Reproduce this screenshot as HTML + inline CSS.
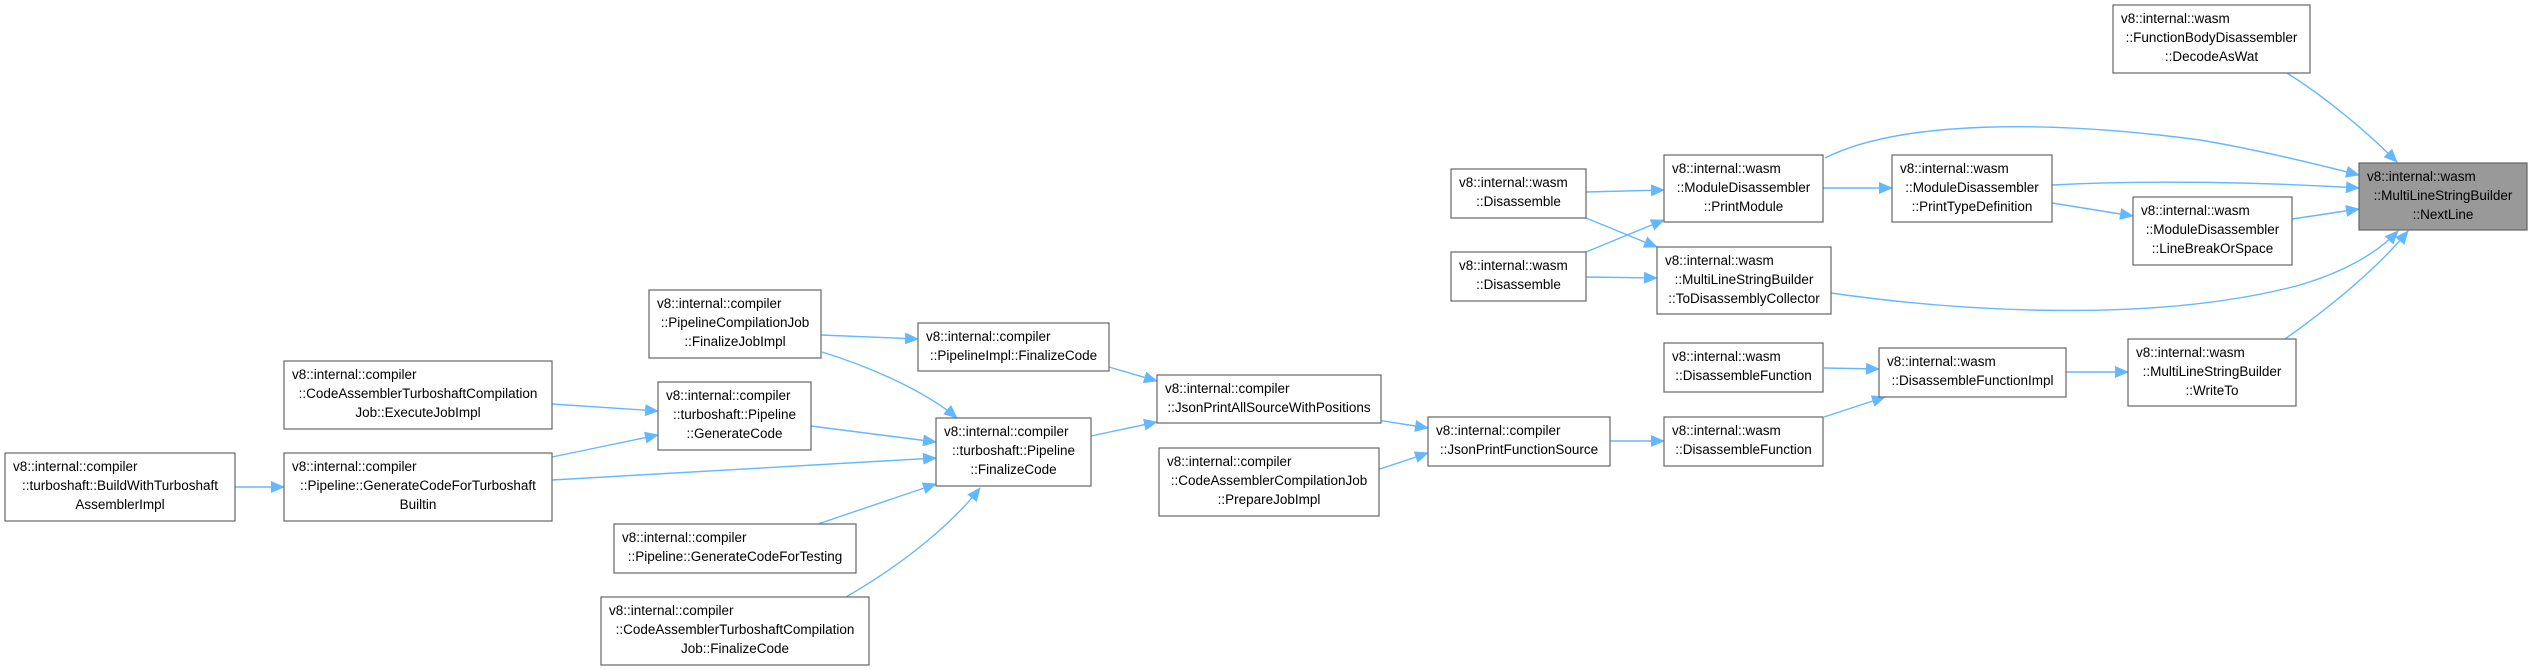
<!DOCTYPE html>
<html><head><meta charset="utf-8"><style>
html,body{margin:0;padding:0;background:#fff;}
svg{display:block;}
text{font-family:"Liberation Sans",sans-serif;font-size:13.5px;fill:#000;}
.b{fill:#fff;stroke:#666;stroke-width:1.2;}
.e{fill:none;stroke:#63b8ff;stroke-width:1.4;}
</style></head><body>
<svg width="2534" height="670" viewBox="0 0 2534 670" xmlns="http://www.w3.org/2000/svg">
<defs><marker id="a" markerUnits="userSpaceOnUse" markerWidth="14" markerHeight="12" refX="13" refY="6" orient="auto"><path d="M0,0 L14,6 L0,12 z" fill="#63b8ff"/></marker></defs>
<g class="edges">
<path class="e" marker-end="url(#a)" d="M2287,73 C2330,100 2370,135 2397,162"/>
<path class="e" marker-end="url(#a)" d="M1825,158 C1900,120 2050,120 2200,140 C2260,150 2320,165 2359,175"/>
<path class="e" marker-end="url(#a)" d="M2052,185 C2150,180 2260,182 2359,188"/>
<path class="e" marker-end="url(#a)" d="M2292,219 L2359,209"/>
<path class="e" marker-end="url(#a)" d="M2052,203 L2133,216"/>
<path class="e" marker-end="url(#a)" d="M1823,188 L1892,188"/>
<path class="e" marker-end="url(#a)" d="M1586,192 L1664,190"/>
<path class="e" marker-end="url(#a)" d="M1586,218 L1657,247"/>
<path class="e" marker-end="url(#a)" d="M1586,252 L1664,220"/>
<path class="e" marker-end="url(#a)" d="M1586,277 L1657,278"/>
<path class="e" marker-end="url(#a)" d="M1831,293 C1950,310 2150,325 2300,285 C2350,270 2380,250 2398,231"/>
<path class="e" marker-end="url(#a)" d="M2285,339 C2340,300 2380,265 2408,231"/>
<path class="e" marker-end="url(#a)" d="M2066,372 L2128,372"/>
<path class="e" marker-end="url(#a)" d="M1824,368 L1879,369"/>
<path class="e" marker-end="url(#a)" d="M1824,417 L1885,397"/>
<path class="e" marker-end="url(#a)" d="M1610,441 L1664,441"/>
<path class="e" marker-end="url(#a)" d="M1377,420 L1428,428"/>
<path class="e" marker-end="url(#a)" d="M1377,470 L1428,453"/>
<path class="e" marker-end="url(#a)" d="M1109,367 L1157,381"/>
<path class="e" marker-end="url(#a)" d="M1091,436 L1157,422"/>
<path class="e" marker-end="url(#a)" d="M821,335 L918,339"/>
<path class="e" marker-end="url(#a)" d="M822,352 C880,370 930,395 957,418"/>
<path class="e" marker-end="url(#a)" d="M811,426 L936,442"/>
<path class="e" marker-end="url(#a)" d="M552,404 L658,411"/>
<path class="e" marker-end="url(#a)" d="M552,457 L658,435"/>
<path class="e" marker-end="url(#a)" d="M552,480 L936,458"/>
<path class="e" marker-end="url(#a)" d="M235,487 L284,487"/>
<path class="e" marker-end="url(#a)" d="M818,524 L936,484"/>
<path class="e" marker-end="url(#a)" d="M846,597 C910,560 955,520 980,488"/>
</g>
<g class="nodes">
<rect class="b" x="2113" y="5" width="197" height="68"/>
<text x="2121" y="23">v8::internal::wasm</text><text x="2211.5" y="42" text-anchor="middle">::FunctionBodyDisassembler</text><text x="2211.5" y="61" text-anchor="middle">::DecodeAsWat</text>

<rect x="2359" y="163" width="168" height="67" fill="#999" stroke="#666" stroke-width="1.2"/>
<text x="2367" y="181">v8::internal::wasm</text><text x="2443" y="200" text-anchor="middle">::MultiLineStringBuilder</text><text x="2443" y="219" text-anchor="middle">::NextLine</text>

<rect class="b" x="1664" y="155" width="159" height="67"/>
<text x="1672" y="173">v8::internal::wasm</text><text x="1743.5" y="192" text-anchor="middle">::ModuleDisassembler</text><text x="1743.5" y="211" text-anchor="middle">::PrintModule</text>

<rect class="b" x="1892" y="155" width="160" height="67"/>
<text x="1900" y="173">v8::internal::wasm</text><text x="1972" y="192" text-anchor="middle">::ModuleDisassembler</text><text x="1972" y="211" text-anchor="middle">::PrintTypeDefinition</text>

<rect class="b" x="2133" y="197" width="159" height="68"/>
<text x="2141" y="215">v8::internal::wasm</text><text x="2212.5" y="234" text-anchor="middle">::ModuleDisassembler</text><text x="2212.5" y="253" text-anchor="middle">::LineBreakOrSpace</text>

<rect class="b" x="1451" y="169" width="135" height="49"/>
<text x="1459" y="187">v8::internal::wasm</text><text x="1518.5" y="206" text-anchor="middle">::Disassemble</text>

<rect class="b" x="1451" y="252" width="135" height="49"/>
<text x="1459" y="270">v8::internal::wasm</text><text x="1518.5" y="289" text-anchor="middle">::Disassemble</text>

<rect class="b" x="1657" y="247" width="174" height="67"/>
<text x="1665" y="265">v8::internal::wasm</text><text x="1744" y="284" text-anchor="middle">::MultiLineStringBuilder</text><text x="1744" y="303" text-anchor="middle">::ToDisassemblyCollector</text>

<rect class="b" x="1664" y="343" width="159" height="49"/>
<text x="1672" y="361">v8::internal::wasm</text><text x="1743.5" y="380" text-anchor="middle">::DisassembleFunction</text>

<rect class="b" x="1879" y="348" width="187" height="49"/>
<text x="1887" y="366">v8::internal::wasm</text><text x="1972.5" y="385" text-anchor="middle">::DisassembleFunctionImpl</text>

<rect class="b" x="2128" y="339" width="168" height="67"/>
<text x="2136" y="357">v8::internal::wasm</text><text x="2212" y="376" text-anchor="middle">::MultiLineStringBuilder</text><text x="2212" y="395" text-anchor="middle">::WriteTo</text>

<rect class="b" x="1664" y="417" width="159" height="49"/>
<text x="1672" y="435">v8::internal::wasm</text><text x="1743.5" y="454" text-anchor="middle">::DisassembleFunction</text>

<rect class="b" x="1428" y="417" width="182" height="49"/>
<text x="1436" y="435">v8::internal::compiler</text><text x="1519" y="454" text-anchor="middle">::JsonPrintFunctionSource</text>

<rect class="b" x="1157" y="375" width="224" height="48"/>
<text x="1165" y="393">v8::internal::compiler</text><text x="1269" y="412" text-anchor="middle">::JsonPrintAllSourceWithPositions</text>

<rect class="b" x="1159" y="448" width="220" height="68"/>
<text x="1167" y="466">v8::internal::compiler</text><text x="1269" y="485" text-anchor="middle">::CodeAssemblerCompilationJob</text><text x="1269" y="504" text-anchor="middle">::PrepareJobImpl</text>

<rect class="b" x="918" y="323" width="191" height="48"/>
<text x="926" y="341">v8::internal::compiler</text><text x="1013.5" y="360" text-anchor="middle">::PipelineImpl::FinalizeCode</text>

<rect class="b" x="649" y="290" width="172" height="68"/>
<text x="657" y="308">v8::internal::compiler</text><text x="735" y="327" text-anchor="middle">::PipelineCompilationJob</text><text x="735" y="346" text-anchor="middle">::FinalizeJobImpl</text>

<rect class="b" x="936" y="418" width="155" height="68"/>
<text x="944" y="436">v8::internal::compiler</text><text x="1013.5" y="455" text-anchor="middle">::turboshaft::Pipeline</text><text x="1013.5" y="474" text-anchor="middle">::FinalizeCode</text>

<rect class="b" x="658" y="382" width="153" height="68"/>
<text x="666" y="400">v8::internal::compiler</text><text x="734.5" y="419" text-anchor="middle">::turboshaft::Pipeline</text><text x="734.5" y="438" text-anchor="middle">::GenerateCode</text>

<rect class="b" x="284" y="361" width="268" height="68"/>
<text x="292" y="379">v8::internal::compiler</text><text x="418" y="398" text-anchor="middle">::CodeAssemblerTurboshaftCompilation</text><text x="418" y="417" text-anchor="middle">Job::ExecuteJobImpl</text>

<rect class="b" x="284" y="453" width="268" height="68"/>
<text x="292" y="471">v8::internal::compiler</text><text x="418" y="490" text-anchor="middle">::Pipeline::GenerateCodeForTurboshaft</text><text x="418" y="509" text-anchor="middle">Builtin</text>

<rect class="b" x="5" y="453" width="230" height="68"/>
<text x="13" y="471">v8::internal::compiler</text><text x="120" y="490" text-anchor="middle">::turboshaft::BuildWithTurboshaft</text><text x="120" y="509" text-anchor="middle">AssemblerImpl</text>

<rect class="b" x="614" y="524" width="242" height="49"/>
<text x="622" y="542">v8::internal::compiler</text><text x="735" y="561" text-anchor="middle">::Pipeline::GenerateCodeForTesting</text>

<rect class="b" x="601" y="597" width="268" height="68"/>
<text x="609" y="615">v8::internal::compiler</text><text x="735" y="634" text-anchor="middle">::CodeAssemblerTurboshaftCompilation</text><text x="735" y="653" text-anchor="middle">Job::FinalizeCode</text>
</g>
</svg>
</body></html>
